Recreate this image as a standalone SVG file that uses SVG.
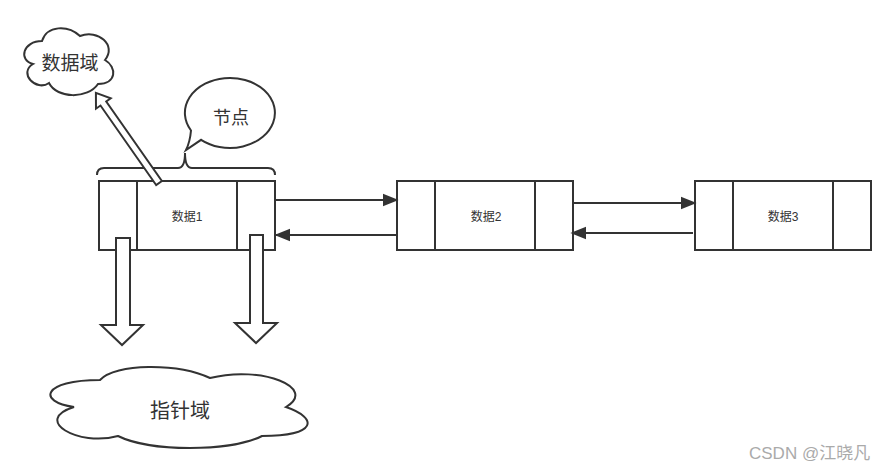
<svg xmlns="http://www.w3.org/2000/svg" width="896" height="471" viewBox="0 0 896 471">
<defs>
<style>
.s{fill:#fff;stroke:#333;stroke-width:2}
.l{fill:none;stroke:#333;stroke-width:2}
.t{font-family:"Liberation Sans","Noto Sans CJK SC",sans-serif;fill:#333;text-anchor:middle}
</style>
<marker id="ah2" viewBox="0 0 10 10" refX="9" refY="5" markerWidth="16" markerHeight="16" markerUnits="userSpaceOnUse" orient="auto">
<path d="M0,1 L10,5 L0,9 Z" fill="#333"/>
</marker>
</defs>
<rect width="896" height="471" fill="#fff"/>
<g id="node1">
<rect class="s" x="99" y="181" width="176" height="69"/>
<line class="l" x1="137" y1="181" x2="137" y2="250"/>
<line class="l" x1="237" y1="181" x2="237" y2="250"/>
<text class="t" x="187" y="221" font-size="12">数据1</text>
</g>
<g id="node2">
<rect class="s" x="397" y="181" width="176" height="69"/>
<line class="l" x1="435" y1="181" x2="435" y2="250"/>
<line class="l" x1="535" y1="181" x2="535" y2="250"/>
<text class="t" x="486" y="221" font-size="12">数据2</text>
</g>
<g id="node3">
<rect class="s" x="695" y="181" width="176" height="69"/>
<line class="l" x1="733" y1="181" x2="733" y2="250"/>
<line class="l" x1="833" y1="181" x2="833" y2="250"/>
<text class="t" x="783" y="221" font-size="12">数据3</text>
</g>
<g id="brace">
<path class="l" d="M97,175 Q97,168 104,168 L178,168 Q185,168 185,153 Q185,168 192,168 L268,168 Q275,168 275,175"/>
</g>
<g id="callout">
<path class="s" d="M201.1,139.8 A45,35 0 1 0 191,130.5 Q190,142 186,150 Z"/>
<text class="t" x="231" y="124" font-size="18">节点</text>
</g>
<g id="cloud-data">
<path class="s" d="M42,41 C23,41 18,60 33,64 C18,73 36,92 49,83 C57,99 88,99 98,84 C117,84 117,67 105,60 C117,45 98,29 80,36 C68,25 47,25 42,41 Z"/>
<text class="t" x="70" y="70" font-size="19">数据域</text>
</g>
<g id="cloud-pointer">
<path class="s" d="M100,380 C42,380 37,402 74,407 C32,420 78,447 118,436 C150,452 230,452 262,436 C318,436 318,418 286,407 C318,388 262,365 210,378 C178,363 115,363 100,380 Z"/>
<text class="t" x="180" y="418" font-size="20">指针域</text>
</g>
<g id="connectors">
<line class="l" x1="275" y1="200" x2="397" y2="200" marker-end="url(#ah2)"/>
<line class="l" x1="397" y1="235" x2="276" y2="235" marker-end="url(#ah2)"/>
<line class="l" x1="573" y1="203" x2="695" y2="203" marker-end="url(#ah2)"/>
<line class="l" x1="693" y1="233" x2="572" y2="233" marker-end="url(#ah2)"/>
<polygon class="s" transform="translate(159,183) rotate(-125)" points="0,-3.5 97,-3.5 97,-9 110,0 97,9 97,3.5 0,3.5"/>
<polygon class="s" points="116,238 130,238 130,325 143,325 122,345 101,325 116,325"/>
<polygon class="s" points="250,235 263,235 263,323 277,323 256,343 235,323 250,323"/>
</g>
<text x="749" y="459" font-family="Liberation Sans,'Noto Sans CJK SC',sans-serif" font-size="17" fill="#aaa">CSDN @江晓凡</text>
</svg>
